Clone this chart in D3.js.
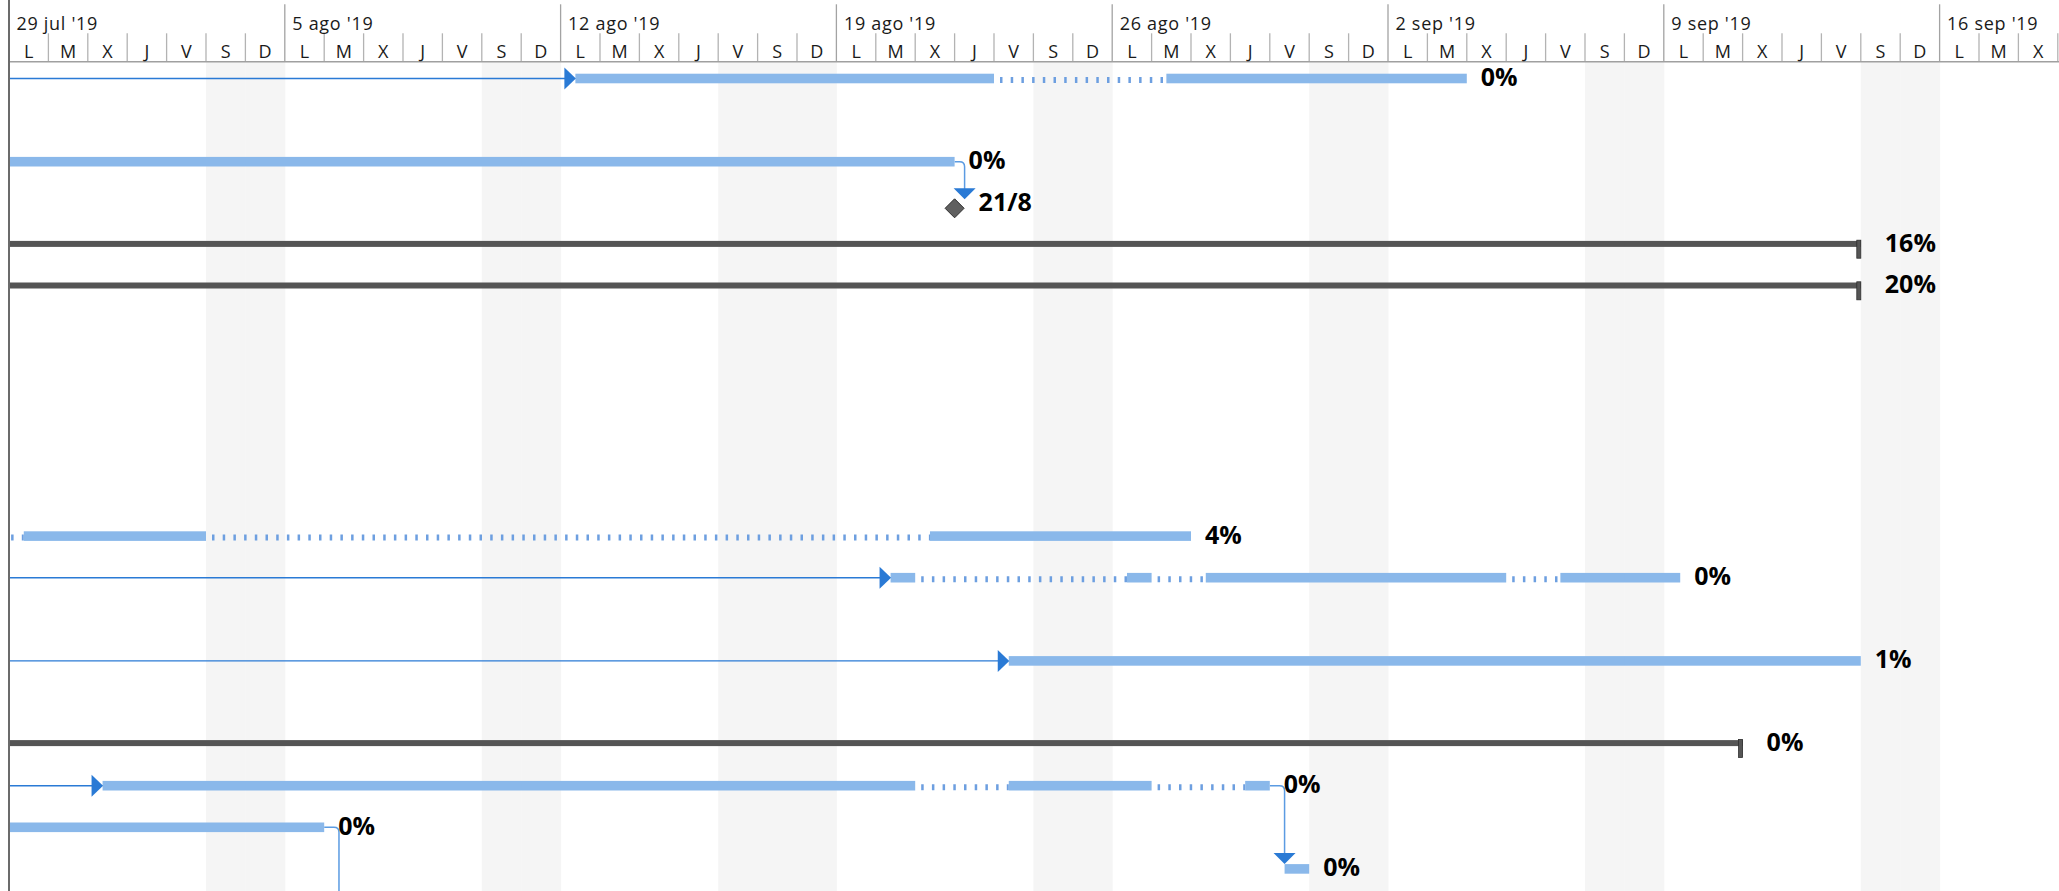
<!DOCTYPE html>
<html><head><meta charset="utf-8">
<script src="https://cdn.jsdelivr.net/npm/d3@7"></script>
<style>
html,body{margin:0;padding:0;background:#fff;overflow:hidden}
svg{display:block}
text{font-family:"Open Sans","Noto Sans",sans-serif}
</style></head><body><svg id="c" width="2059" height="891"></svg>
<script>
// ---------- data ----------
const viewStart = "2019-07-29 00:00";
const viewEnd   = "2019-09-19 00:00";
const weekLabels = ["29 jul '19","5 ago '19","12 ago '19","19 ago '19","26 ago '19","2 sep '19","9 sep '19","16 sep '19"];
const dayLetters = ["L","M","X","J","V","S","D"];
// non-working days besides weekends
const holidays = ["2019-08-16 00:00"];

// task bars (row index, work segments, % complete label, predecessor off-screen to the left)
const taskRows   = [0, 2, 11, 12, 14, 17, 18, 19];
const taskLabels = ["0%","0%","4%","0%","1%","0%","0%","0%"];
const taskPredLeft = [true, false, false, true, true, true, false, false];
const taskSegments = [
  [["2019-08-12 09:00","2019-08-23 00:00"],["2019-08-27 09:00","2019-09-04 00:00"]],
  [["2019-07-10 09:00","2019-08-22 00:00"]],
  [["2019-07-22 09:00","2019-07-27 00:00"],["2019-07-29 09:00","2019-08-03 00:00"],["2019-08-21 09:00","2019-08-28 00:00"]],
  [["2019-08-20 09:00","2019-08-21 00:00"],["2019-08-26 09:00","2019-08-27 00:00"],["2019-08-28 09:00","2019-09-05 00:00"],["2019-09-06 09:00","2019-09-09 10:00"]],
  [["2019-08-23 09:00","2019-09-14 00:00"]],
  [["2019-07-31 09:00","2019-08-21 00:00"],["2019-08-23 09:00","2019-08-27 00:00"],["2019-08-29 09:00","2019-08-30 00:00"]],
  [["2019-07-15 09:00","2019-08-06 00:00"]],
  [["2019-08-30 09:00","2019-08-31 00:00"]]
];

// summary bars
const summaryRows   = [4, 5, 16];
const summaryStarts = ["2019-07-01 09:00","2019-07-01 09:00","2019-07-01 09:00"];
const summaryEnds   = ["2019-09-14 00:00","2019-09-14 00:00","2019-09-11 00:00"];
const summaryLabels = ["16%","20%","0%"];

// milestones
const milestoneRows   = [3];
const milestoneDates  = ["2019-08-22 00:00"];
const milestoneLabels = ["21/8"];

// finish-to-start links drawn downward
const linkFromRow    = [2, 17, 18];
const linkToRow      = [3, 19, 21];
const linkTargetDate = ["2019-08-22 00:00","2019-08-30 09:00","2019-08-06 09:00"];
const linkToMilestone = [true, false, false];

// ---------- drawing ----------
const W = 2059, H = 891;
const parse = d3.utcParse("%Y-%m-%d %H:%M");
const t0 = parse(viewStart), t1 = parse(viewEnd);
const x = d3.scaleUtc().domain([t0, t1]).range([9, 2057.8]);
const y = d3.scaleLinear().domain([0, 1]).range([78.5, 120.1]);
const headerBottom = 61.7;
const dayX = d => x(d3.utcDay.offset(t0, d));
const nDays = d3.utcDay.count(t0, t1);

const svg = d3.select("#c");
svg.append("rect").attr("width", W).attr("height", H).attr("fill", "#fff");

// non-working days (weekends + holidays)
const holidayIdx = holidays.map(h => d3.utcDay.count(t0, parse(h)));
const offDays = d3.range(nDays).filter(d => d % 7 >= 5 || holidayIdx.includes(d));
svg.append("g").selectAll("rect").data(offDays).join("rect")
  .attr("x", d => dayX(d)).attr("width", d => dayX(d + 1) - dayX(d) + 0.5)
  .attr("y", headerBottom).attr("height", H - headerBottom).attr("fill", "#f5f5f5");

// header
const hdr = svg.append("g");
hdr.selectAll("line.day").data(d3.range(0, nDays + 1).filter(d => d % 7 !== 0)).join("line")
  .attr("x1", d => dayX(d)).attr("x2", d => dayX(d)).attr("y1", 33.3).attr("y2", headerBottom)
  .attr("stroke", "#b3b3b3").attr("stroke-width", 1.3);
hdr.selectAll("line.week").data(d3.range(weekLabels.length)).join("line")
  .attr("x1", w => dayX(w * 7)).attr("x2", w => dayX(w * 7)).attr("y1", 4.3).attr("y2", headerBottom)
  .attr("stroke", "#a3a3a3").attr("stroke-width", 1.3);
hdr.append("line").attr("x1", 9).attr("x2", W).attr("y1", headerBottom).attr("y2", headerBottom)
  .attr("stroke", "#a0a0a0").attr("stroke-width", 1.6);
hdr.selectAll("text.wk").data(weekLabels).join("text")
  .attr("x", (d, i) => dayX(i * 7) + 7.5).attr("y", 30)
  .attr("font-size", 18).attr("letter-spacing", "0.7px").attr("fill", "#1a1a1a").text(d => d);
hdr.selectAll("text.dy").data(d3.range(nDays)).join("text")
  .attr("x", d => (dayX(d) + dayX(d + 1)) / 2).attr("y", 58)
  .attr("text-anchor", "middle").attr("font-size", 18).attr("fill", "#1a1a1a")
  .text(d => dayLetters[d % 7]);

// body with clip
svg.append("defs").append("clipPath").attr("id", "body")
  .append("rect").attr("x", 10).attr("y", headerBottom + 1).attr("width", W - 10).attr("height", H - headerBottom);
const body = svg.append("g").attr("clip-path", "url(#body)");

const barColor = "#8ab8ea", arrowColor = "#2a7ad5", linkColor = "#5b9be2";

// predecessor lines from the left
taskRows.forEach((r, i) => {
  if (!taskPredLeft[i]) return;
  const xs = x(parse(taskSegments[i][0][0])), yy = y(r);
  body.append("line").attr("x1", 9).attr("x2", xs - 10).attr("y1", yy).attr("y2", yy)
    .attr("stroke", arrowColor).attr("stroke-width", 1.4);
});

// links going down
linkFromRow.forEach((r, i) => {
  const ti = taskRows.indexOf(r);
  const segs = taskSegments[ti];
  const xs = x(parse(segs[segs.length - 1][1]));
  const y0 = y(r);
  const xt = x(parse(linkTargetDate[i]));
  const xv = xt > xs + 8 ? xt : xs + 10;
  const tipY = linkToMilestone[i] ? y(linkToRow[i]) - 4 : y(linkToRow[i]) - 5;
  const rr = 5;
  body.append("path")
    .attr("d", `M${xs},${y0}H${xv - rr}Q${xv},${y0} ${xv},${y0 + rr}V${tipY - 10}`)
    .attr("fill", "none").attr("stroke", linkColor).attr("stroke-width", 1.5);
  body.append("path")
    .attr("d", `M${xv - 11},${tipY - 11}L${xv + 11},${tipY - 11}L${xv},${tipY}Z`)
    .attr("fill", arrowColor);
});

// task bars
taskRows.forEach((r, i) => {
  const yy = y(r);
  const segs = taskSegments[i];
  const g = body.append("g");
  for (let k = 0; k < segs.length - 1; k++) {
    const a = x(parse(segs[k][1])), b = x(parse(segs[k + 1][0]));
    g.append("line").attr("x1", a).attr("x2", b).attr("y1", yy + 1.5).attr("y2", yy + 1.5)
      .attr("stroke", "#6d9fe0").attr("stroke-width", 6)
      .attr("stroke-dasharray", "2.5,8.2").attr("stroke-dashoffset", 4.7);
  }
  g.selectAll("rect").data(segs).join("rect")
    .attr("x", d => x(parse(d[0]))).attr("width", d => x(parse(d[1])) - x(parse(d[0])))
    .attr("y", yy - 4.8).attr("height", 9.6).attr("fill", barColor);
  if (taskPredLeft[i]) {
    const xs = x(parse(segs[0][0]));
    g.append("path").attr("d", `M${xs - 11},${yy - 11}L${xs + 0.5},${yy}L${xs - 11},${yy + 11}Z`)
      .attr("fill", arrowColor);
  }
  const xe = x(parse(segs[segs.length - 1][1]));
  body.append("text").attr("x", xe + 14).attr("y", yy + 7.5)
    .attr("font-size", 25).attr("font-weight", 700).attr("fill", "#000").text(taskLabels[i]);
});

// summary bars
summaryRows.forEach((r, i) => {
  const yc = y(r) - 1;
  const xs = x(parse(summaryStarts[i])), xe = x(parse(summaryEnds[i]));
  body.append("rect").attr("x", xs).attr("width", xe - xs).attr("y", yc - 3).attr("height", 6).attr("fill", "#555");
  body.append("rect").attr("x", xe - 4).attr("width", 4).attr("y", yc - 3.7).attr("height", 18)
    .attr("fill", "#555").attr("stroke", "#2e2e2e").attr("stroke-width", 0.8);
  body.append("text").attr("x", xe + 24).attr("y", yc + 7.7)
    .attr("font-size", 25).attr("font-weight", 700).attr("fill", "#000").text(summaryLabels[i]);
});

// milestones
milestoneRows.forEach((r, i) => {
  const xm = x(parse(milestoneDates[i])), ym = y(r) + 5, h = 9.5;
  body.append("path").attr("d", `M${xm},${ym - h}L${xm + h},${ym}L${xm},${ym + h}L${xm - h},${ym}Z`)
    .attr("fill", "#606060").attr("stroke", "#2e2e2e").attr("stroke-width", 1);
  body.append("text").attr("x", xm + 24).attr("y", y(r) + 7.7)
    .attr("font-size", 25).attr("font-weight", 700).attr("fill", "#000").text(milestoneLabels[i]);
});

// left border
svg.append("line").attr("x1", 9).attr("x2", 9).attr("y1", 0).attr("y2", H)
  .attr("stroke", "#6b6b6b").attr("stroke-width", 2);
</script></body></html>
